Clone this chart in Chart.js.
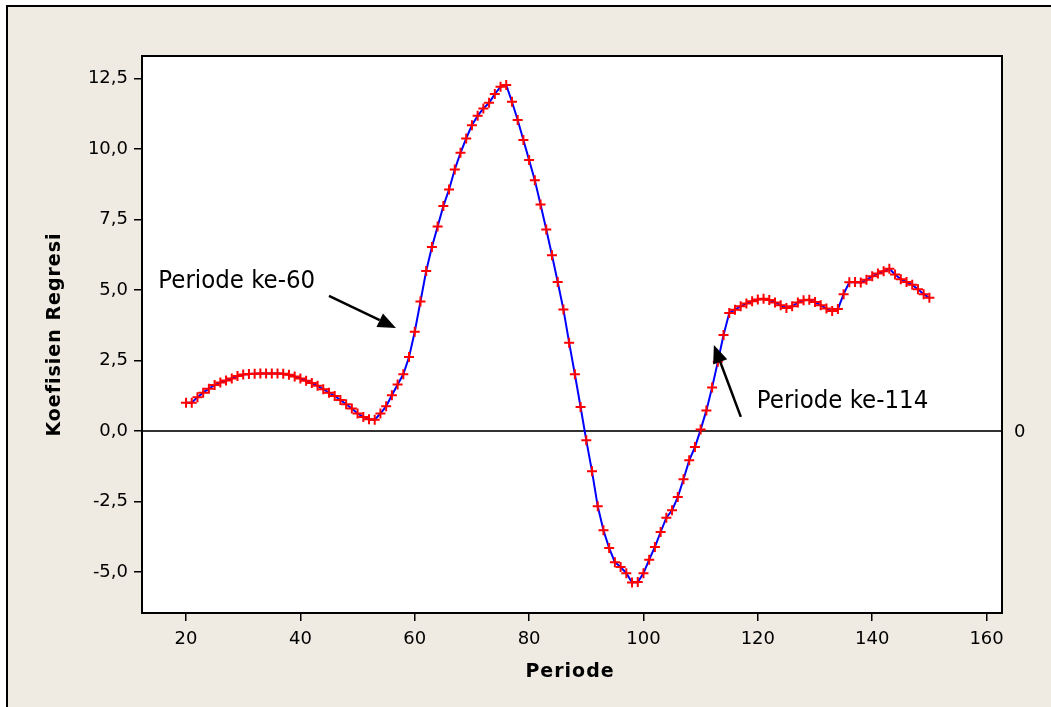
<!DOCTYPE html>
<html>
<head>
<meta charset="utf-8">
<title>Koefisien Regresi per Periode</title>
<style>
  html, body { margin: 0; padding: 0; background: #ffffff; }
  canvas { display: block; }
</style>
<script src="https://cdn.jsdelivr.net/npm/chart.js@4.4.1/dist/chart.umd.min.js"></script>
</head>
<body>
<canvas id="grafik" width="1051" height="707"></canvas>
<script>
// Koefisien regresi untuk setiap periode, mulai dari periode ke-20
const periodeAwal = 20;
const koefisien = [
  1.00, 1.00, 1.20, 1.36, 1.50, 1.63, 1.72, 1.79, 1.86, 1.95,   // 20-29
  2.00, 2.02, 2.03, 2.04, 2.04, 2.04, 2.04, 2.03, 1.99, 1.93,   // 30-39
  1.86, 1.78, 1.70, 1.60, 1.48, 1.36, 1.24, 1.10, 0.95, 0.80,   // 40-49
  0.62, 0.50, 0.42, 0.40, 0.62, 0.88, 1.27, 1.65, 2.01, 2.62,   // 50-59
  3.52, 4.59, 5.67, 6.52, 7.25, 7.97, 8.56, 9.27, 9.86, 10.37,  // 60-69
  10.84, 11.17, 11.43, 11.63, 11.94, 12.20, 12.26, 11.67, 11.02, 10.31, // 70-79
  9.60, 8.89, 8.03, 7.14, 6.23, 5.28, 4.31, 3.13, 2.01, 0.85,   // 80-89
  -0.33, -1.43, -2.67, -3.52, -4.15, -4.65, -4.82, -5.04, -5.37, -5.35, // 90-99
  -5.04, -4.56, -4.11, -3.58, -3.07, -2.81, -2.34, -1.71, -1.04, -0.57, // 100-109
  0.05, 0.73, 1.54, 2.45, 3.40, 4.18, 4.30, 4.42, 4.52, 4.60,   // 110-119
  4.66, 4.69, 4.64, 4.55, 4.46, 4.36, 4.42, 4.55, 4.63, 4.65,   // 120-129
  4.57, 4.46, 4.34, 4.25, 4.32, 4.85, 5.27, 5.28, 5.26, 5.36,   // 130-139
  5.48, 5.58, 5.66, 5.75, 5.55, 5.38, 5.28, 5.18, 5.02, 4.85,   // 140-149
  4.72                                                          // 150
];
const periode = koefisien.map((_, i) => periodeAwal + i);

// Tick dan rentang sumbu
const xTicks = [20, 40, 60, 80, 100, 120, 140, 160];
const yTicks = [-5, -2.5, 0, 2.5, 5, 7.5, 10, 12.5];
const xRange = [12.3, 162.7];
const yRange = [-6.45, 13.29];

// Garis referensi horizontal
const garisReferensi = 0;

// Keterangan dengan panah (koordinat dalam satuan data)
const keterangan = [
  { teks: 'Periode ke-60',  tx: 15.16,  ty: 5.08, dariX: 45.0,   dariY: 4.79, keX: 56.71,  keY: 3.65 },
  { teks: 'Periode ke-114', tx: 119.83, ty: 0.80, dariX: 117.03, dariY: 0.50, keX: 112.31, keY: 3.05 }
];

const fmtKoma = v => v.toFixed(1).replace('.', ',');
const hurufTick = "'DejaVu Sans', Verdana, sans-serif";
const hurufCatatan = "'DejaVu Sans Condensed', 'Liberation Sans', Arial, sans-serif";

const latarPlugin = {
  id: 'latar',
  beforeDraw(chart) {
    const { ctx, chartArea: a, width, height } = chart;
    ctx.save();
    ctx.fillStyle = '#ffffff';
    ctx.fillRect(0, 0, width, height);
    ctx.fillStyle = '#efebe2';
    ctx.fillRect(7, 6, width, height);
    ctx.strokeStyle = '#000000';
    ctx.lineWidth = 2;
    ctx.strokeRect(7, 6, width + 10, height + 10);
    ctx.fillStyle = '#ffffff';
    ctx.fillRect(a.left, a.top, a.right - a.left, a.bottom - a.top);
    ctx.restore();
  },
  beforeDatasetsDraw(chart) {
    const { ctx, chartArea: a, scales } = chart;
    const y = scales.y.getPixelForValue(garisReferensi);
    ctx.save();
    ctx.strokeStyle = '#333333';
    ctx.lineWidth = 2;
    ctx.beginPath();
    ctx.moveTo(a.left, y);
    ctx.lineTo(a.right, y);
    ctx.stroke();
    ctx.fillStyle = '#000000';
    ctx.font = '18px ' + hurufTick;
    ctx.textAlign = 'left';
    ctx.textBaseline = 'middle';
    ctx.fillText(String(garisReferensi), a.right + 12, y + 1);
    ctx.restore();
  },
  afterDraw(chart) {
    const { ctx, chartArea: a, scales } = chart;
    ctx.save();
    // bingkai area plot
    ctx.strokeStyle = '#000000';
    ctx.lineWidth = 2;
    ctx.strokeRect(a.left, a.top, a.right - a.left, a.bottom - a.top);

    // judul sumbu
    ctx.fillStyle = '#000000';
    ctx.font = 'bold 19px ' + hurufTick;
    ctx.letterSpacing = '1px';
    ctx.textAlign = 'center';
    ctx.textBaseline = 'alphabetic';
    ctx.fillText('Periode', (a.left + a.right) / 2 - 2, 677);
    ctx.save();
    ctx.translate(60, (a.top + a.bottom) / 2);
    ctx.rotate(-Math.PI / 2);
    ctx.fillText('Koefisien Regresi', 0, 0);
    ctx.restore();
    ctx.letterSpacing = '0px';

    // keterangan dan panah
    ctx.font = '25.5px ' + hurufCatatan;
    ctx.textAlign = 'left';
    ctx.textBaseline = 'alphabetic';
    keterangan.forEach(k => {
      ctx.fillStyle = '#000000';
      ctx.fillText(k.teks, scales.x.getPixelForValue(k.tx), scales.y.getPixelForValue(k.ty));
      const x0 = scales.x.getPixelForValue(k.dariX), y0 = scales.y.getPixelForValue(k.dariY);
      const x1 = scales.x.getPixelForValue(k.keX), y1 = scales.y.getPixelForValue(k.keY);
      const sudut = Math.atan2(y1 - y0, x1 - x0);
      const panjang = 18, lebar = 7.5;
      const bx = x1 - panjang * Math.cos(sudut), by = y1 - panjang * Math.sin(sudut);
      ctx.strokeStyle = '#000000';
      ctx.lineWidth = 2.5;
      ctx.beginPath();
      ctx.moveTo(x0, y0);
      ctx.lineTo(bx, by);
      ctx.stroke();
      ctx.beginPath();
      ctx.moveTo(x1, y1);
      ctx.lineTo(bx + lebar * Math.sin(sudut), by - lebar * Math.cos(sudut));
      ctx.lineTo(bx - lebar * Math.sin(sudut), by + lebar * Math.cos(sudut));
      ctx.closePath();
      ctx.fill();
    });
    ctx.restore();
  }
};

new Chart(document.getElementById('grafik'), {
  type: 'line',
  data: {
    datasets: [{
      data: periode.map((p, i) => ({ x: p, y: koefisien[i] })),
      borderColor: '#0000ff',
      borderWidth: 2,
      tension: 0,
      fill: false,
      pointStyle: 'cross',
      pointRadius: 5,
      pointBorderWidth: 2,
      pointBorderColor: '#ff0000',
      pointBackgroundColor: '#ff0000'
    }]
  },
  options: {
    responsive: false,
    animation: false,
    devicePixelRatio: 1,
    layout: { padding: { left: 0, top: 56, right: 49, bottom: 0 } },
    plugins: { legend: { display: false }, tooltip: { enabled: false } },
    scales: {
      x: {
        type: 'linear',
        position: 'bottom',
        min: xRange[0],
        max: xRange[1],
        afterBuildTicks: s => { s.ticks = xTicks.map(v => ({ value: v })); },
        afterFit: s => { s.height = 94; },
        grid: { drawOnChartArea: false, drawTicks: true, tickLength: 8, color: '#000000', lineWidth: 1.5 },
        border: { display: false },
        ticks: { color: '#000000', font: { family: hurufTick, size: 18 }, padding: 8, maxRotation: 0, callback: v => String(v) }
      },
      y: {
        type: 'linear',
        min: yRange[0],
        max: yRange[1],
        afterBuildTicks: s => { s.ticks = yTicks.map(v => ({ value: v })); },
        afterFit: s => { s.width = 142; },
        grid: { drawOnChartArea: false, drawTicks: true, tickLength: 8, color: '#000000', lineWidth: 1.5 },
        border: { display: false },
        ticks: { color: '#000000', font: { family: hurufTick, size: 18 }, padding: 6, callback: v => fmtKoma(v) }
      }
    }
  },
  plugins: [latarPlugin]
});
</script>
</body>
</html>
